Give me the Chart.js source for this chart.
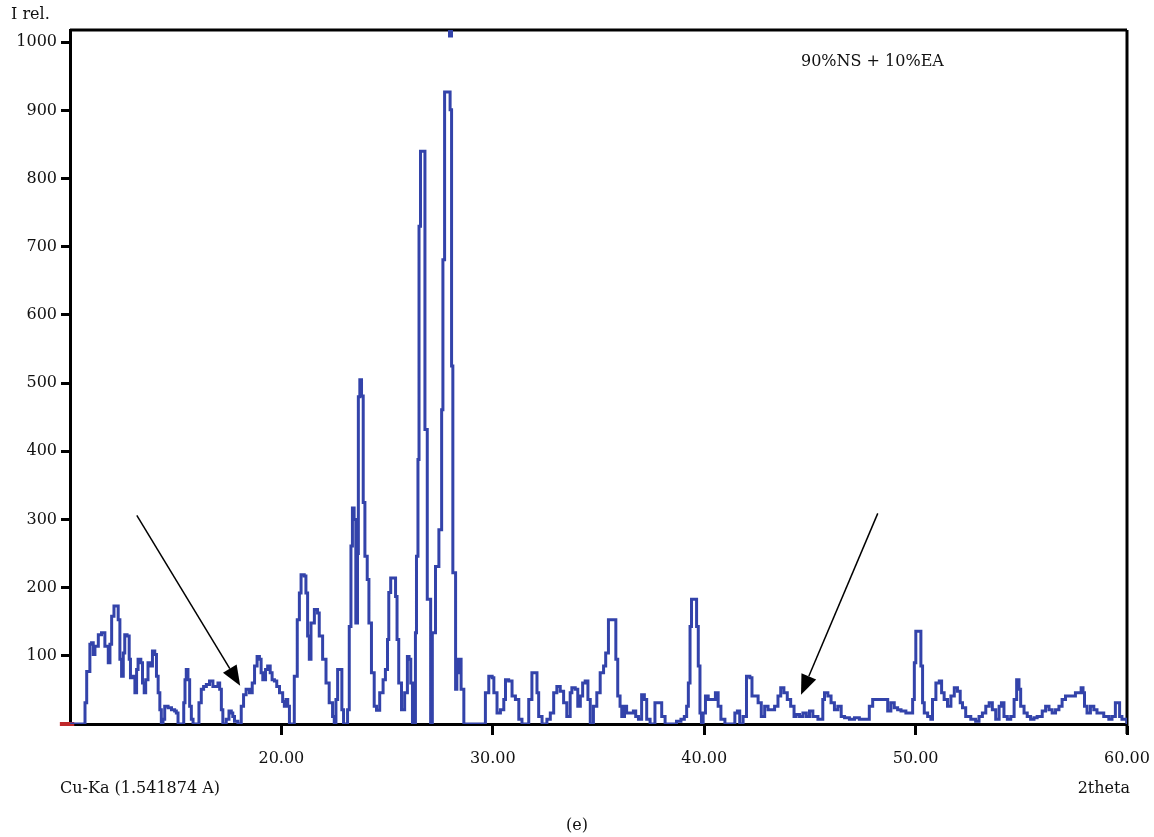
<!DOCTYPE html>
<html><head><meta charset="utf-8">
<script src="https://cdn.jsdelivr.net/npm/chart.js@4.4.1/dist/chart.umd.min.js"></script>
<style>html,body{margin:0;padding:0;background:#fff;}#wrap{width:1154px;height:837px;position:relative;}</style>
</head><body><div id="wrap"><canvas id="c" width="1154" height="837"></canvas></div>
<script>
const twoTheta = [10.00,10.63,10.71,10.79,10.94,11.02,11.10,11.18,11.34,11.49,11.65,11.81,11.89,11.97,12.08,12.20,12.28,12.36,12.44,12.52,12.59,12.70,12.80,12.86,12.96,13.07,13.15,13.22,13.35,13.43,13.51,13.58,13.69,13.77,13.90,14.01,14.09,14.17,14.25,14.32,14.40,14.48,14.64,14.80,14.95,15.03,15.11,15.27,15.38,15.44,15.50,15.58,15.66,15.74,15.82,15.97,16.10,16.21,16.32,16.45,16.60,16.76,16.92,17.00,17.08,17.16,17.23,17.39,17.52,17.63,17.70,17.78,17.94,18.02,18.10,18.21,18.33,18.49,18.62,18.73,18.85,18.96,19.04,19.12,19.25,19.35,19.47,19.56,19.67,19.78,19.91,20.06,20.14,20.22,20.30,20.38,20.53,20.61,20.75,20.85,20.93,21.08,21.16,21.24,21.32,21.40,21.56,21.71,21.79,21.95,22.11,22.26,22.42,22.50,22.58,22.66,22.77,22.86,22.94,23.05,23.13,23.21,23.29,23.36,23.44,23.52,23.60,23.64,23.71,23.79,23.87,23.95,24.06,24.14,24.26,24.39,24.50,24.65,24.81,24.92,25.02,25.08,25.17,25.33,25.40,25.47,25.55,25.68,25.83,25.96,26.04,26.12,26.20,26.28,26.34,26.39,26.46,26.51,26.58,26.75,26.79,26.90,27.06,27.10,27.14,27.29,27.45,27.58,27.64,27.72,27.92,27.98,28.05,28.11,28.24,28.30,28.37,28.43,28.50,28.63,29.50,29.65,29.81,29.97,30.05,30.20,30.36,30.52,30.60,30.75,30.91,31.07,31.23,31.38,31.55,31.70,31.85,32.01,32.09,32.17,32.33,32.56,32.72,32.88,33.03,33.19,33.35,33.50,33.66,33.74,33.90,34.02,34.14,34.25,34.37,34.50,34.61,34.76,34.92,35.08,35.24,35.34,35.47,35.63,35.75,35.82,35.91,36.02,36.10,36.23,36.33,36.49,36.65,36.76,36.89,37.04,37.17,37.28,37.44,37.67,37.83,37.99,38.15,38.46,38.69,38.90,39.06,39.17,39.25,39.33,39.40,39.56,39.64,39.72,39.80,39.87,39.95,40.06,40.19,40.38,40.53,40.66,40.79,40.98,41.29,41.45,41.57,41.68,41.84,42.00,42.16,42.26,42.42,42.55,42.70,42.86,43.02,43.17,43.33,43.49,43.62,43.77,43.93,44.09,44.25,44.35,44.51,44.67,44.83,44.98,45.14,45.38,45.61,45.69,45.85,46.00,46.16,46.32,46.48,46.64,46.87,47.11,47.34,47.66,47.81,47.97,48.29,48.52,48.68,48.83,48.99,49.15,49.31,49.54,49.78,49.86,49.94,50.01,50.17,50.25,50.33,50.41,50.57,50.72,50.80,50.96,51.12,51.23,51.35,51.51,51.67,51.83,51.98,52.11,52.22,52.37,52.61,52.84,53.00,53.16,53.32,53.48,53.63,53.79,53.95,54.06,54.18,54.34,54.50,54.66,54.78,54.89,54.97,55.13,55.28,55.44,55.60,55.75,55.99,56.15,56.31,56.46,56.62,56.78,56.93,57.09,57.25,57.41,57.56,57.72,57.83,57.92,57.99,58.11,58.27,58.43,58.58,58.74,58.90,59.14,59.29,59.45,59.56,59.65,59.76,60.00];
const intensity = [0,0,31,77,117,119,102,114,131,134,114,90,117,158,173,173,153,95,70,104,131,129,95,68,70,46,80,95,90,60,46,65,90,85,107,102,70,46,21,0,7,26,24,21,19,16,0,0,31,65,80,65,26,7,0,0,31,51,55,58,63,55,55,60,51,21,0,7,19,16,11,4,0,0,26,43,51,46,60,85,99,95,75,65,80,85,75,65,63,55,46,33,26,36,26,0,0,70,153,192,219,217,192,129,95,148,168,163,129,95,60,31,11,0,36,80,80,21,0,0,21,143,261,317,300,148,250,480,505,481,325,246,212,148,75,26,20,46,65,80,124,193,214,214,187,124,60,21,46,99,95,60,0,0,134,246,388,730,840,840,432,183,0,0,134,231,285,461,681,927,927,901,525,222,51,95,75,95,51,0,0,46,70,68,46,16,21,36,65,63,41,36,7,0,0,36,75,75,46,11,0,7,16,46,55,48,31,11,46,53,51,26,41,60,63,36,0,26,46,75,85,104,153,153,153,95,41,26,11,26,16,16,19,11,7,43,36,7,0,31,31,11,0,0,4,7,11,26,60,143,183,183,143,85,16,0,16,41,36,36,46,26,7,0,0,16,19,0,11,70,68,41,41,31,11,26,21,21,26,41,53,46,36,26,11,14,11,16,11,19,11,7,36,46,41,31,21,26,11,9,7,9,7,7,26,36,36,36,19,31,24,21,19,16,16,36,90,136,136,85,31,16,11,7,36,60,63,46,36,26,41,53,48,31,24,11,7,4,11,16,26,31,21,7,26,31,11,7,11,36,65,51,26,16,11,7,9,11,19,26,21,16,21,26,36,41,41,41,46,46,53,46,26,16,26,21,16,16,11,7,11,31,31,11,7,0];
const yTickValues = [100,200,300,400,500,600,700,800,900,1000];
const xTickValues = [20,30,40,50,60];
const topMarkTheta = [28.0, 28.0];
const topMarkI = [1007, 1018];
const startMarkTheta = [9.52, 10.2];
const startMarkI = [0, 0];
// arrows: [fromTheta, fromI, toTheta, toI]
const arrows = [[13.16, 306, 18.05, 56], [48.21, 309, 44.58, 43]];

const FONT = "'DejaVu Serif', 'Liberation Serif', serif";
Chart.defaults.font.family = FONT;
Chart.defaults.font.size = 16;
Chart.defaults.color = '#111';

const extras = {
  id: 'extras',
  beforeDatasetsDraw(chart) {
    const {ctx, chartArea: a} = chart;
    ctx.save();
    ctx.strokeStyle = '#000';
    ctx.lineWidth = 3;
    ctx.beginPath();
    ctx.moveTo(a.left, a.top); ctx.lineTo(a.right, a.top);
    ctx.moveTo(a.right, a.top); ctx.lineTo(a.right, a.bottom + 10);
    ctx.stroke();
    ctx.restore();
  },
  afterDraw(chart) {
    const {ctx, scales: {x, y}} = chart;
    ctx.save();
    ctx.strokeStyle = '#000'; ctx.fillStyle = '#000'; ctx.lineWidth = 1.5;
    arrows.forEach(([t0, i0, t1, i1]) => {
      const x0 = x.getPixelForValue(t0), y0 = y.getPixelForValue(i0);
      const x1 = x.getPixelForValue(t1), y1 = y.getPixelForValue(i1);
      const ang = Math.atan2(y1 - y0, x1 - x0);
      const L = 20, W = 8;
      const bx = x1 - L * Math.cos(ang), by = y1 - L * Math.sin(ang);
      ctx.beginPath(); ctx.moveTo(x0, y0); ctx.lineTo(bx, by); ctx.stroke();
      ctx.beginPath();
      ctx.moveTo(x1, y1);
      ctx.lineTo(bx + W * Math.sin(ang), by - W * Math.cos(ang));
      ctx.lineTo(bx - W * Math.sin(ang), by + W * Math.cos(ang));
      ctx.closePath(); ctx.fill();
    });
    ctx.fillStyle = '#111';
    ctx.font = "16px " + FONT;
    ctx.textBaseline = 'middle';
    ctx.textAlign = 'left';
    ctx.fillText('I rel.', 11, 15);
    ctx.fillText('90%NS + 10%EA', 801, 62);
    ctx.fillText('Cu-Ka (1.541874 A)', 60, 789);
    ctx.textAlign = 'right';
    ctx.fillText('2theta', 1130, 789);
    ctx.textAlign = 'center';
    ctx.fillText('(e)', 577, 826);
    ctx.restore();
  }
};

new Chart(document.getElementById('c'), {
  type: 'line',
  data: {
    datasets: [
      {
        label: 'XRD',
        data: twoTheta.map((t, i) => ({x: t, y: intensity[i]})),
        borderColor: '#3343aa',
        borderWidth: 3,
        pointRadius: 0,
        stepped: true,
        fill: false
      },
      {
        label: 'peak mark',
        data: topMarkTheta.map((t, i) => ({x: t, y: topMarkI[i]})),
        borderColor: '#3343aa',
        borderWidth: 5,
        pointRadius: 0
      },
      {
        label: 'start mark',
        data: startMarkTheta.map((t, i) => ({x: t, y: startMarkI[i]})),
        borderColor: '#c0282a',
        borderWidth: 4,
        pointRadius: 0,
        clip: false
      }
    ]
  },
  options: {
    responsive: false,
    animation: false,
    layout: {padding: {top: 30, right: 27, left: 0, bottom: 0}},
    plugins: {legend: {display: false}, tooltip: {enabled: false}},
    scales: {
      x: {
        type: 'linear', min: 10, max: 60,
        afterBuildTicks: s => { s.ticks = xTickValues.map(v => ({value: v})); },
        afterFit: s => { s.height = 113; s.paddingLeft = 0; s.paddingRight = 0; },
        ticks: {callback: v => Number(v).toFixed(2), padding: 14, maxRotation: 0, font: {size: 16}},
        grid: {drawOnChartArea: false, drawTicks: true, tickLength: 11, tickWidth: 3, tickColor: '#000'},
        border: {display: true, color: '#000', width: 3}
      },
      y: {
        type: 'linear', min: 0, max: 1018,
        afterBuildTicks: s => { s.ticks = yTickValues.map(v => ({value: v})); },
        afterFit: s => { s.width = 70; s.paddingTop = 0; s.paddingBottom = 0; },
        ticks: {callback: v => String(v), padding: 4, font: {size: 16}},
        grid: {drawOnChartArea: false, drawTicks: true, tickLength: 9, tickWidth: 3, tickColor: '#000'},
        border: {display: true, color: '#000', width: 3}
      }
    }
  },
  plugins: [extras]
});
</script></body></html>
